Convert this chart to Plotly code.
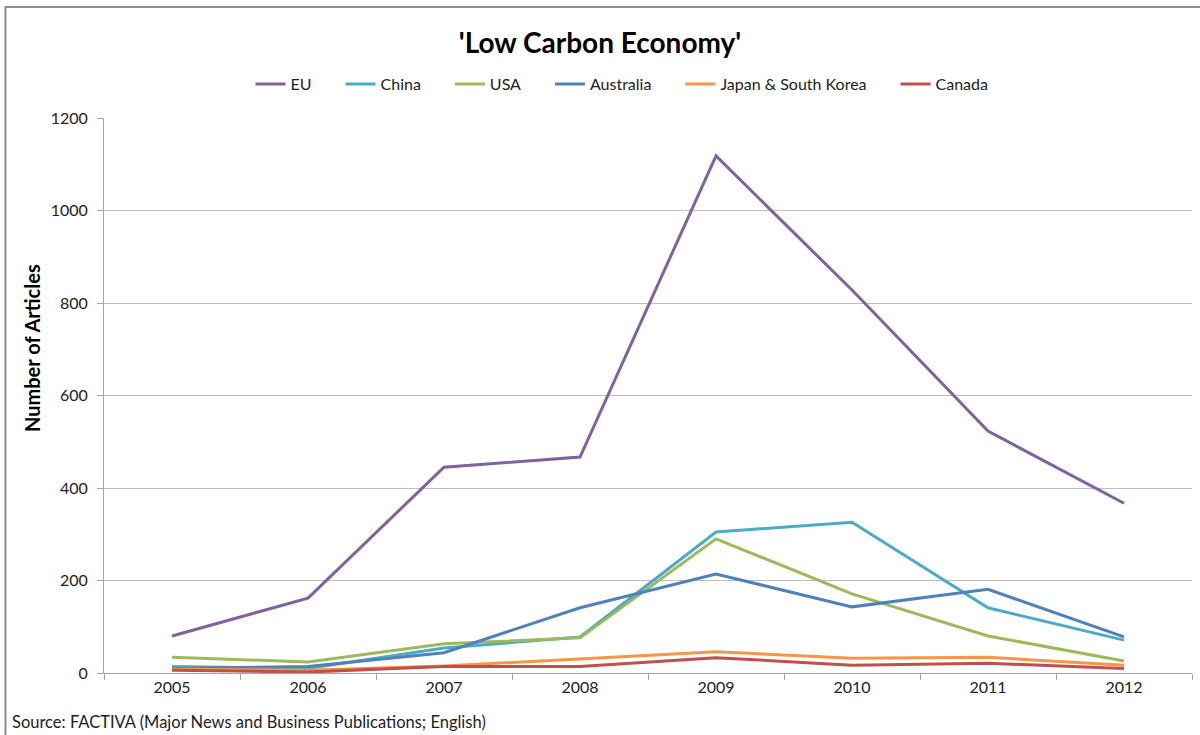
import plotly.graph_objects as go

years = ["2005", "2006", "2007", "2008", "2009", "2010", "2011", "2012"]
eu = [80, 162, 445, 467, 1118, 828, 523, 367]
china = [14, 10, 54, 78, 305, 326, 141, 71]
usa = [34, 24, 63, 76, 290, 171, 80, 26]
australia = [10, 14, 44, 141, 214, 143, 181, 78]
japan_korea = [8, 6, 15, 30, 46, 32, 34, 17]
canada = [6, 2, 14, 14, 33, 17, 21, 10]

series = [
    ("EU", eu, "#7F62A1"),
    ("China", china, "#4BACC6"),
    ("USA", usa, "#9BBB59"),
    ("Australia", australia, "#4F81BD"),
    ("Japan & South Korea", japan_korea, "#F79646"),
    ("Canada", canada, "#C0504D"),
]

FONT = "Lato"

fig = go.Figure()
for name, vals, color in series:
    fig.add_trace(go.Scatter(x=years, y=vals, name=name + "\u2003\u2003", mode="lines",
                             line=dict(color=color, width=3)))

L, R, T, B = 104, 8, 118, 62
W, H = 1200, 735
pw, ph = W - L - R, H - T - B

def px(x):
    return (x - L) / pw

def py(y):
    return (H - B - y) / ph

fig.update_layout(
    width=W, height=H,
    margin=dict(l=L, r=R, t=T, b=B),
    paper_bgcolor="white", plot_bgcolor="white",
    font=dict(family=FONT, size=16, color="#222222"),
    title=dict(text="<b>'Low Carbon Economy'</b>", x=0.5, xref="container",
               xanchor="center", y=1 - 43 / H, yanchor="middle",
               font=dict(family=FONT, size=28, color="black")),
    showlegend=True,
    legend=dict(orientation="h", x=px(634), xanchor="center", y=py(84), yanchor="middle",
                font=dict(family=FONT, size=16, color="#222222"), traceorder="normal",
                itemwidth=30, bgcolor="rgba(0,0,0,0)"),
    xaxis=dict(type="category", showgrid=False, showline=True, linecolor="#A6A6A6", linewidth=1,
               ticks="outside", tickson="boundaries", ticklen=6, tickcolor="#A6A6A6",
               tickfont=dict(family=FONT, size=16, color="#222222"), range=[-0.5, 7.5],
               zeroline=False),
    yaxis=dict(range=[0, 1200], dtick=200, showgrid=True, gridcolor="#BEBEBE", gridwidth=1,
               showline=True, linecolor="#A6A6A6", linewidth=1, ticks="outside", ticklen=6,
               tickcolor="#A6A6A6", zeroline=False, ticklabelstandoff=6,
               tickfont=dict(family=FONT, size=16, color="#222222")),
    shapes=[dict(type="rect", xref="paper", yref="paper",
                 x0=px(5.5), x1=px(1210), y0=py(745), y1=py(7),
                 line=dict(color="#8C8C8C", width=2), fillcolor="rgba(0,0,0,0)", layer="below")],
    annotations=[
        dict(text="<b>Number of Articles</b>", xref="paper", yref="paper", x=px(32), y=py(348),
             textangle=-90, showarrow=False, xanchor="center", yanchor="middle",
             font=dict(family=FONT, size=20, color="black")),
        dict(text="Source: FACTIVA (Major News and Business Publications; English)",
             xref="paper", yref="paper", x=px(10), y=py(722), xanchor="left", yanchor="middle",
             showarrow=False, font=dict(family=FONT, size=16.5, color="#222222")),
    ],
)

fig.write_html("out.html")
